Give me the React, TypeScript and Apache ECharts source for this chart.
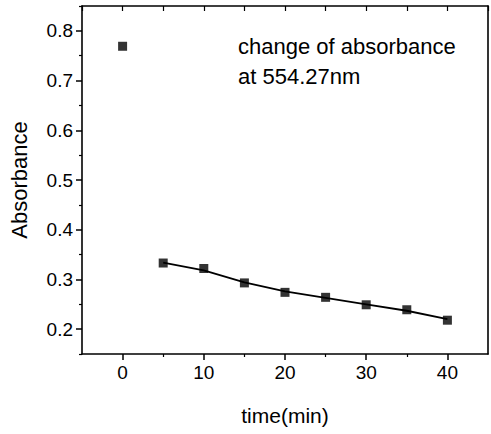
import React, { useEffect, useRef } from "react";
import * as echarts from "echarts";

const timeMin = [0, 5, 10, 15, 20, 25, 30, 35, 40];
const absorbance = [0.769, 0.333, 0.322, 0.293, 0.274, 0.264, 0.249, 0.239, 0.218];
const fitTime = [5, 10, 15, 20, 25, 30, 35, 40];
const fitAbs = [0.334, 0.318, 0.294, 0.276, 0.263, 0.250, 0.237, 0.220];
const xTickLabels = [0, 10, 20, 30, 40];
const xMinorTicks = [5, 15, 25, 35];
const yTickLabels = [0.2, 0.3, 0.4, 0.5, 0.6, 0.7, 0.8];
const yMinorTicks = [0.15, 0.25, 0.35, 0.45, 0.55, 0.65, 0.75, 0.85];
const noteLines = ["change of absorbance", "at 554.27nm"];

const FONT = "Liberation Sans, Arial, sans-serif";

export default function App() {
  const ref = useRef<HTMLDivElement>(null);
  useEffect(() => {
    if (!ref.current) return;
    const chart = echarts.init(ref.current, null, { renderer: "svg" });
    const line = { onZero: false, lineStyle: { color: "#000", width: 1.6 } };
    chart.setOption({
      animation: false,
      backgroundColor: "#fff",
      grid: { left: 82, right: 3, top: 6, bottom: 80 },
      xAxis: [
        {
          type: "value", position: "bottom", min: -5, max: 45,
          name: "time(min)", nameLocation: "middle", nameGap: 51,
          nameTextStyle: { fontFamily: FONT, fontSize: 21, color: "#000" },
          axisLine: { show: true, ...line },
          axisTick: { show: true, customValues: xTickLabels, length: 6, inside: false, lineStyle: { color: "#000", width: 1.5 } },
          axisLabel: { customValues: xTickLabels, fontFamily: FONT, fontSize: 19, color: "#000", margin: 9 },
          splitLine: { show: false },
        },
        {
          type: "value", position: "top", min: -5, max: 45, interval: 5,
          axisLine: { show: true, ...line },
          axisTick: { show: true, inside: true, length: 5, lineStyle: { color: "#000", width: 1.2 } },
          axisLabel: { show: false },
          splitLine: { show: false },
        },
        {
          type: "value", position: "bottom", min: -5, max: 45,
          axisLine: { show: false, onZero: false },
          axisTick: { show: true, customValues: xMinorTicks, length: 3, lineStyle: { color: "#000", width: 1.2 } },
          axisLabel: { show: false },
          splitLine: { show: false },
        },
      ],
      yAxis: [
        {
          type: "value", position: "left", min: 0.15, max: 0.85,
          name: "Absorbance", nameLocation: "middle", nameGap: 52,
          nameTextStyle: { fontFamily: FONT, fontSize: 22, color: "#000" },
          axisLine: { show: true, ...line },
          axisTick: { show: true, customValues: yTickLabels, length: 6, lineStyle: { color: "#000", width: 1.5 } },
          axisLabel: { customValues: yTickLabels, fontFamily: FONT, fontSize: 19, color: "#000", margin: 9, formatter: (v: number) => v.toFixed(1) },
          splitLine: { show: false },
        },
        {
          type: "value", position: "right", min: 0.15, max: 0.85,
          axisLine: { show: true, ...line },
          axisTick: { show: false },
          axisLabel: { show: false },
          splitLine: { show: false },
        },
        {
          type: "value", position: "left", min: 0.15, max: 0.85,
          axisLine: { show: false, onZero: false },
          axisTick: { show: true, customValues: yMinorTicks, length: 3, lineStyle: { color: "#000", width: 1.2 } },
          axisLabel: { show: false },
          splitLine: { show: false },
        },
      ],
      graphic: [
        {
          type: "text", left: 238, top: 31,
          style: { text: noteLines.join("\n"), fontFamily: FONT, fontSize: 22, lineHeight: 30, fill: "#000" },
        },
      ],
      series: [
        {
          type: "line",
          data: fitTime.map((t, i) => [t, fitAbs[i]]),
          showSymbol: false, symbol: "none",
          lineStyle: { color: "#000", width: 1.8 },
          z: 2,
        },
        {
          type: "scatter",
          data: timeMin.map((t, i) => [t, absorbance[i]]),
          symbol: "rect", symbolSize: 9,
          itemStyle: { color: "#000" },
          z: 3,
        },
      ],
    });
    return () => chart.dispose();
  }, []);
  return <div ref={ref} style={{ width: 491, height: 434, position: "absolute", left: 0, top: 0 }} />;
}
